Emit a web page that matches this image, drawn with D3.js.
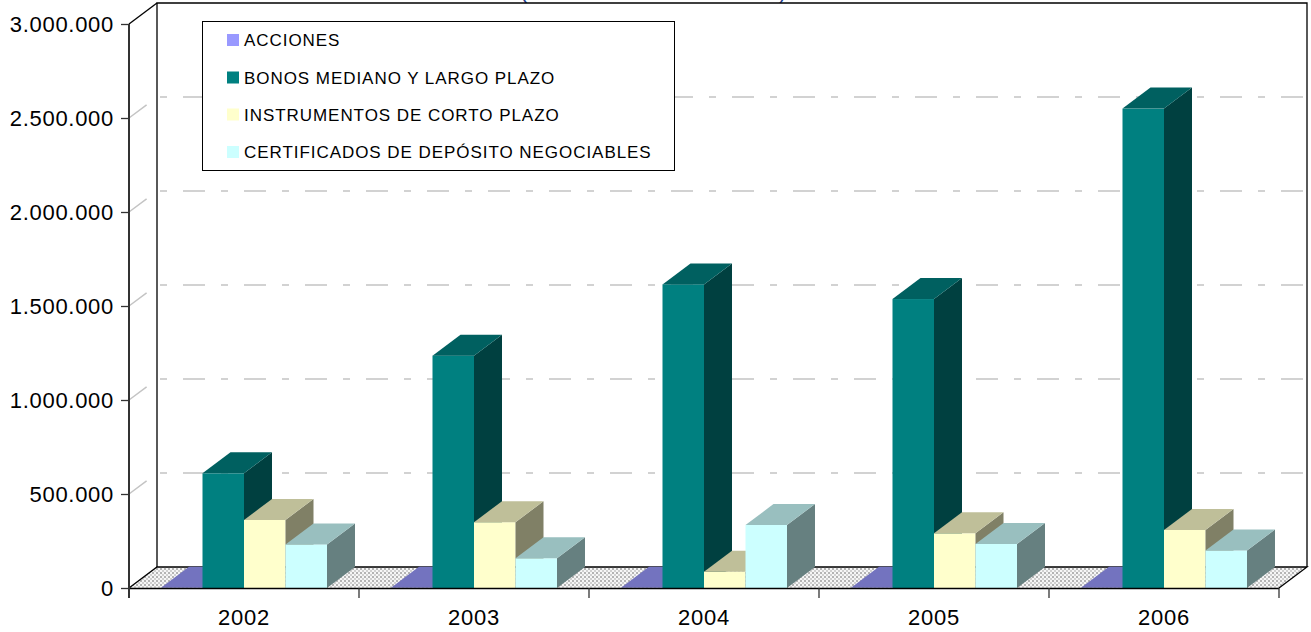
<!DOCTYPE html>
<html>
<head>
<meta charset="utf-8">
<script src="https://cdn.jsdelivr.net/npm/d3@7"></script>
<style>
  html, body { margin: 0; padding: 0; background: #fff; }
  svg { display: block; }
  text { font-family: "Liberation Sans", Arial, sans-serif; }
</style>
</head>
<body>
<svg id="chart" width="1311" height="632"></svg>
<script>
// ---- data ----
const years = ["2002", "2003", "2004", "2005", "2006"];
const seriesNames = ["ACCIONES", "BONOS MEDIANO Y LARGO PLAZO", "INSTRUMENTOS DE CORTO PLAZO", "CERTIFICADOS DE DEPÓSITO NEGOCIABLES"];
const acciones     = [1500, 1200, 1000, 1200, 1500];
const bonos        = [610000, 1236000, 1615000, 1537000, 2550000];
const instrumentos = [362000, 350000, 87000, 291000, 309000];
const certificados = [232000, 158000, 335000, 234000, 200000];
const yTicks = [0, 500000, 1000000, 1500000, 2000000, 2500000, 3000000];

// colours: front, top, side
const colors = [
  { front: "#9999FF", top: "#7373BF", side: "#4D4D80" },
  { front: "#008080", top: "#006060", side: "#004040" },
  { front: "#FFFFCC", top: "#BFBF99", side: "#808066" },
  { front: "#CCFFFF", top: "#99BFBF", side: "#668080" }
];
const seriesValues = [acciones, bonos, instrumentos, certificados];

// ---- layout ----
const svg = d3.select("#chart");
const X0 = 129, X1 = 1279;
const DX = 28, DY = -21;
const y = d3.scaleLinear().domain([0, 3000000]).range([588, 24]);
const x = d3.scaleBand().domain(years).range([X0, X1]).paddingInner(0).paddingOuter(0);
const xs = d3.scaleBand().domain(d3.range(seriesNames.length)).range([0, x.bandwidth()]).paddingInner(0).paddingOuter(0.771);
const Y0 = y(0), YT = y(3000000);

const locale = d3.formatLocale({ decimal: ",", thousands: ".", grouping: [3], currency: ["", ""] });
const fmt = locale.format(",");

// floor pattern
const defs = svg.append("defs");
const pat = defs.append("pattern").attr("id", "dots").attr("patternUnits", "userSpaceOnUse")
  .attr("width", 4).attr("height", 4);
pat.append("rect").attr("width", 4).attr("height", 4).attr("fill", "#f6f6f6");
pat.append("rect").attr("x", 0).attr("y", 0).attr("width", 2).attr("height", 2).attr("fill", "#b4b4b4");
pat.append("rect").attr("x", 2).attr("y", 2).attr("width", 2).attr("height", 2).attr("fill", "#d0d0d0");

// partially visible title (parentheses, cut off at the top edge as in the reference)
svg.append("text").attr("x", 520).attr("y", -2).attr("font-size", 22).attr("fill", "#1F3F8F").text("(");
svg.append("text").attr("x", 779).attr("y", -2).attr("font-size", 22).attr("fill", "#1F3F8F").text(")");

// back wall
svg.append("rect").attr("x", X0 + DX).attr("y", YT + DY).attr("width", X1 - X0).attr("height", Y0 - YT)
  .attr("fill", "#fff");

// floor
svg.append("path")
  .attr("d", `M${X0},${Y0}L${X1},${Y0}L${X1 + DX},${Y0 + DY}L${X0 + DX},${Y0 + DY}Z`)
  .attr("fill", "url(#dots)");

// gridlines (left wall diagonal + back wall)
svg.append("g").selectAll("path").data(yTicks.filter(t => t > 0 && t < 3000000)).join("path")
  .attr("d", t => `M${X0},${y(t)}L${X0 + DX},${y(t) + DY}L${X1 + DX},${y(t) + DY}`)
  .attr("fill", "none").attr("stroke", "#c4c4c4").attr("stroke-width", 1.5)
  .attr("stroke-dasharray", "22,16,7,16");

// wall outline
const outline = svg.append("g").attr("fill", "none").attr("stroke", "#000").attr("stroke-width", 1.3);
outline.append("path").attr("d", `M${X0 + DX},${Y0 + DY}L${X0 + DX},${YT + DY}L${X1 + DX},${YT + DY}L${X1 + DX},${Y0 + DY}`);
outline.append("path").attr("d", `M${X0},${YT}L${X0 + DX},${YT + DY}`);
outline.append("path").attr("d", `M${X0},${Y0}L${X0 + DX},${Y0 + DY}L${X1 + DX},${Y0 + DY}L${X1},${Y0}`);

// bars
const bars = [];
years.forEach((yr, i) => {
  seriesValues.forEach((vals, s) => {
    bars.push({ yr, s, v: vals[i] });
  });
});
const gb = svg.append("g");
bars.forEach(b => {
  const bx = x(b.yr) + xs(b.s);
  const w = xs.bandwidth();
  const yv = y(b.v);
  const c = colors[b.s];
  const g = gb.append("g");
  if (Y0 - yv > 0.5) {
    g.append("rect").attr("x", bx).attr("y", yv).attr("width", w).attr("height", Y0 - yv).attr("fill", c.front);
    g.append("path").attr("d", `M${bx + w},${yv}L${bx + w + DX},${yv + DY}L${bx + w + DX},${Y0 + DY}L${bx + w},${Y0}Z`)
      .attr("fill", c.side);
  }
  g.append("path").attr("d", `M${bx},${yv}L${bx + DX},${yv + DY}L${bx + w + DX},${yv + DY}L${bx + w},${yv}Z`)
    .attr("fill", c.top);
});

// x axis line and ticks
svg.append("line").attr("x1", X0).attr("x2", X1).attr("y1", Y0 + 0.5).attr("y2", Y0 + 0.5)
  .attr("stroke", "#000").attr("stroke-width", 1.3);
const bounds = years.map(d => x(d)).concat([X1]);
svg.append("g").selectAll("line").data(bounds).join("line")
  .attr("x1", d => d).attr("x2", d => d).attr("y1", Y0).attr("y2", Y0 + 10)
  .attr("stroke", "#333").attr("stroke-width", 1.3);

const xAxis = svg.append("g").attr("transform", `translate(0,${Y0})`)
  .call(d3.axisBottom(x).tickSize(0).tickPadding(0));
xAxis.select(".domain").remove();
xAxis.selectAll("text").attr("dy", null).attr("y", 37)
  .attr("font-size", 22).attr("letter-spacing", 0.8).attr("fill", "#000")
  .attr("font-family", "Liberation Sans, Arial, sans-serif");

// y axis
const yAxis = svg.append("g").attr("transform", `translate(${X0},0)`)
  .call(d3.axisLeft(y).tickValues(yTicks).tickSize(8).tickPadding(7).tickFormat(fmt));
yAxis.select(".domain").attr("d", `M0,${YT}V${Y0 + 10}`).attr("stroke", "#333").attr("stroke-width", 2);
yAxis.selectAll(".tick line").attr("stroke", "#333").attr("stroke-width", 1.3);
yAxis.selectAll("text").attr("font-size", 22).attr("letter-spacing", 0.7).attr("fill", "#000")
  .attr("font-family", "Liberation Sans, Arial, sans-serif").attr("dy", "0.36em");

// legend
const lg = svg.append("g");
lg.append("rect").attr("x", 202.5).attr("y", 21.5).attr("width", 472).attr("height", 149)
  .attr("fill", "#fff").attr("stroke", "#000").attr("stroke-width", 1);
const rowsY = [40, 77.5, 114.5, 152];
seriesNames.forEach((name, i) => {
  lg.append("rect").attr("x", 227).attr("y", rowsY[i] - 6).attr("width", 12).attr("height", 12)
    .attr("fill", colors[i].front);
  lg.append("text").attr("x", 244).attr("y", rowsY[i] + 6).attr("font-size", 17).attr("letter-spacing", 0.95)
    .attr("fill", "#000").text(name);
});
</script>
</body>
</html>
